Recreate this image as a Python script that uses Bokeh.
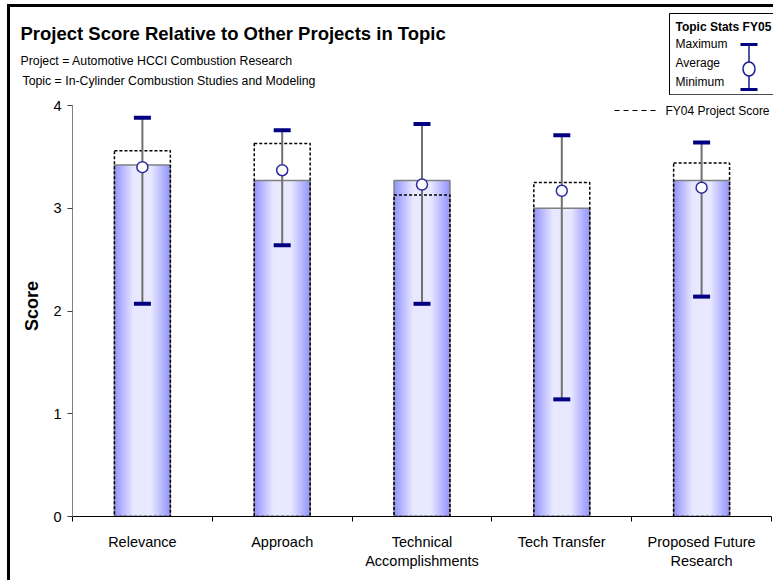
from bokeh.plotting import figure
from bokeh.models import Range1d, FixedTicker, Label, ColumnDataSource, Column
from bokeh.embed import file_html
from bokeh.resources import INLINE

# ---------------- data ----------------
categories = ["Relevance", "Approach", "Technical\nAccomplishments", "Tech Transfer", "Proposed Future\nResearch"]
fy05_score = [3.42, 3.27, 3.27, 3.00, 3.27]
fy04_score = [3.56, 3.63, 3.13, 3.25, 3.44]
topic_max = [3.88, 3.76, 3.82, 3.71, 3.64]
topic_avg = [3.40, 3.37, 3.23, 3.17, 3.20]
topic_min = [2.07, 2.64, 2.07, 1.14, 2.14]
y_ticks = [0, 1, 2, 3, 4]

FONT = "Liberation Sans"

# ---------------- page geometry ----------------
ORG_X, ORG_Y = 10, 7        # page position of content (inside border)
RIGHT = 773                 # page x of right edge of content
SPLIT = 95                  # page y where header ends and chart starts
BOTTOM = 580
AX_L, AX_B = 72, 516        # page px of the chart origin
PX_X = 139.8
PX_Y = 102.75
WIDTH = RIGHT - ORG_X


def px2x(px):
    return (px - AX_L) / PX_X


def px2y(py):
    return (AX_B - py) / PX_Y


# ---------------- header (title + legend box), page-pixel coordinates ----------------
hdr = figure(width=WIDTH, height=SPLIT - ORG_Y, output_backend="svg", toolbar_location=None,
             x_range=Range1d(ORG_X, RIGHT), y_range=Range1d(SPLIT, ORG_Y),
             x_axis_type=None, y_axis_type=None,
             min_border=0, min_border_left=0, min_border_right=0,
             min_border_top=0, min_border_bottom=0)
hdr.frame_align = False
hdr.outline_line_color = None
hdr.xgrid.visible = False
hdr.ygrid.visible = False
hdr.border_fill_color = "white"


def hlabel(text, px, py, size, bold=False):
    hdr.add_layout(Label(x=px, y=py, text=text, text_font=FONT, text_font_size=size,
                         text_font_style="bold" if bold else "normal",
                         text_align="left", text_baseline="middle", text_color="black"))


hlabel("Project Score Relative to Other Projects in Topic", 20, 32.5, "18.5px", bold=True)
hlabel("Project = Automotive HCCI Combustion Research", 20, 60.5, "12.3px")
hlabel("Topic = In-Cylinder Combustion Studies and Modeling", 22, 80.5, "12.3px")

hdr.quad(left=[669], right=[790], top=[13], bottom=[94.3],
         fill_color="white", line_color="black", line_width=1)
hlabel("Topic Stats FY05", 675, 26.5, "12px", bold=True)
hlabel("Maximum", 675, 43, "12px")
hlabel("Average", 675, 62.5, "12px")
hlabel("Minimum", 675, 81.5, "12px")
hdr.segment(x0=[748.5], y0=[44], x1=[748.5], y1=[89], line_color="#1a1a90", line_width=1.5)
hdr.rect(x=[748.5, 748.5], y=[44, 89], width=17, height=3,
         fill_color="#000080", line_color=None)
hdr.ellipse(x=[748.5], y=[68.5], width=12, height=14,
            fill_color="white", line_color="#1a1a90", line_width=1.5)

# ---------------- main chart ----------------
n = len(categories)
xs = [i + 0.5 for i in range(n)]
src = ColumnDataSource(dict(x=xs, top=fy05_score, fy04=fy04_score,
                            mx=topic_max, avg=topic_avg, mn=topic_min))

H = BOTTOM - SPLIT
p = figure(width=WIDTH, height=H, output_backend="svg", toolbar_location=None,
           x_range=Range1d(0, px2x(RIGHT)),
           y_range=Range1d(0, px2y(SPLIT)),
           min_border_left=AX_L - ORG_X, min_border_right=0, min_border_top=0,
           min_border_bottom=BOTTOM - AX_B)
p.frame_align = False
p.outline_line_color = None
p.xgrid.visible = False
p.ygrid.visible = False
p.background_fill_color = "white"
p.border_fill_color = "white"

# bars with horizontal gradient
edge = (150, 150, 255)
center = (232, 232, 255)
N = 16
bar_w = 0.4
for i in range(N):
    t = 1 - i / N
    f = min(1.0, max(0.0, (1 - t) / 0.65))
    c = tuple(int(round(edge[k] + (center[k] - edge[k]) * f)) for k in range(3))
    p.vbar(x="x", top="top", bottom=0, width=bar_w * t, source=src,
           fill_color="#%02x%02x%02x" % c, line_color=None)
p.vbar(x="x", top="top", bottom=0, width=bar_w, source=src,
       fill_color=None, line_color="#808080", line_width=1.5)

# FY04 dotted outline
p.vbar(x="x", top="fy04", bottom=0, width=bar_w, source=src,
       fill_color=None, line_color="black", line_width=1.5, line_dash="3 2")

# topic stats: stem, caps, average
p.segment(x0="x", y0="mn", x1="x", y1="mx", source=src, line_color="#707070", line_width=2)
p.rect(x="x", y="mx", width=17, height=4, width_units="screen", height_units="screen",
       source=src, fill_color="#000080", line_color=None)
p.rect(x="x", y="mn", width=17, height=4, width_units="screen", height_units="screen",
       source=src, fill_color="#000080", line_color=None)
p.scatter(x="x", y="avg", source=src, size=11, marker="circle",
          fill_color="white", line_color="#2a2aa0", line_width=1.5)

# FY04 legend entry
p.segment(x0=[px2x(614)], y0=[px2y(110)], x1=[px2x(657)], y1=[px2y(110)],
          line_color="black", line_width=1.2, line_dash="5 4")
p.add_layout(Label(x=px2x(665), y=px2y(110), text="FY04 Project Score", text_font=FONT,
                   text_font_size="12px", text_baseline="middle", text_color="black"))

# axes
yax = p.yaxis[0]
yax.bounds = (0, 4)
yax.ticker = FixedTicker(ticks=y_ticks)
yax.minor_tick_line_color = None
yax.major_tick_in = 0
yax.major_tick_out = 5
yax.axis_line_color = "#808080"
yax.major_tick_line_color = "#404040"
yax.major_label_text_font = FONT
yax.major_label_text_font_size = "14.5px"
yax.major_label_text_color = "black"
yax.major_label_standoff = 6
yax.axis_label = "Score"
yax.axis_label_text_font = FONT
yax.axis_label_text_font_style = "bold"
yax.axis_label_text_font_size = "18px"
yax.axis_label_text_color = "black"
yax.axis_label_standoff = 8

xax = p.xaxis[0]
xax.bounds = (0, n)
xax.ticker = FixedTicker(ticks=xs, minor_ticks=list(range(n + 1)))
xax.major_label_overrides = {x: c for x, c in zip(xs, categories)}
xax.major_tick_in = 0
xax.major_tick_out = 0
xax.minor_tick_in = 0
xax.minor_tick_out = 5
xax.minor_tick_line_color = "black"
xax.axis_line_color = "black"
xax.major_label_text_font = FONT
xax.major_label_text_font_size = "14.5px"
xax.major_label_text_color = "black"
xax.major_label_standoff = 12

layout = Column(hdr, p, spacing=0,
                styles={"border-left": "3px solid black", "border-top": "3px solid black",
                        "margin-left": "7px", "margin-top": "4px"})

open("out.html", "w").write(file_html(layout, INLINE))
